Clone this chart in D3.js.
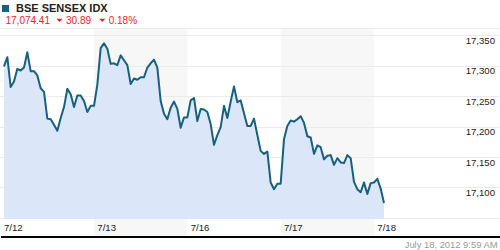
<!DOCTYPE html>
<html>
<head>
<meta charset="utf-8">
<script src="https://cdn.jsdelivr.net/npm/d3@7"></script>
<style>
html,body{margin:0;padding:0;background:#fff;}
svg{display:block;font-family:Arial,"Liberation Sans",sans-serif;}
</style>
</head>
<body>
<svg id="chart" width="500" height="250"></svg>
<script>
// ---- data ----
const title = "BSE SENSEX IDX";
const lastValue = "17,074.41";
const change = "30.89";
const changePct = "0.18%";
const timestamp = "July 18, 2012 9:59 AM";
const dayLabels = ["7/12", "7/13", "7/16", "7/17", "7/18"];
const dayStartSlots = [0, 28, 56, 84, 112];
const shadedDays = [1, 3];
const yTicks = [17100, 17150, 17200, 17250, 17300, 17350];
const gridValues = [17050, 17100, 17150, 17200, 17250, 17300, 17350];
const values = [
  17299, 17314, 17265, 17274, 17295, 17292, 17297, 17322, 17291, 17291,
  17284, 17263, 17257, 17213, 17212, 17203, 17193, 17214, 17232, 17262,
  17253, 17232, 17251, 17251, 17242, 17224, 17234, 17234, 17269, 17329,
  17337, 17328, 17303, 17304, 17301, 17317, 17309, 17301, 17270, 17279,
  17277, 17281, 17281, 17297, 17304, 17310, 17297, 17242, 17221, 17212,
  17231, 17241, 17229, 17198, 17215, 17215, 17243, 17247, 17209, 17229,
  17228, 17224, 17204, 17170, 17186, 17199, 17234, 17214, 17241, 17266,
  17240, 17243, 17222, 17201, 17201, 17213, 17186, 17160, 17155, 17159,
  17108, 17097, 17106, 17106, 17179, 17201, 17210, 17208, 17212, 17217,
  17206, 17184, 17182, 17155, 17169, 17166, 17146, 17152, 17153, 17137,
  17148, 17141, 17140, 17153, 17148, 17109, 17097, 17092, 17108, 17089,
  17107, 17108, 17114, 17098, 17074.41
];

// ---- layout ----
const svg = d3.select("#chart");
const plotTop = 28, plotBottom = 219, bandBottom = 236;
const x = d3.scaleLinear().domain([0, 150]).range([0.67, 500.67]);
const y = d3.scaleLinear().domain([17048, 17362]).range([plotBottom, plotTop]);

// shaded day bands
svg.append("g").selectAll("rect").data(shadedDays).join("rect")
  .attr("x", d => x(dayStartSlots[d]))
  .attr("y", plotTop)
  .attr("width", d => x(dayStartSlots[d] + 28) - x(dayStartSlots[d]))
  .attr("height", bandBottom - plotTop)
  .attr("fill", "#f7f7f7");

// gridlines
svg.append("g").selectAll("line").data(gridValues).join("line")
  .attr("x1", 0).attr("x2", 500)
  .attr("y1", d => Math.round(y(d)) + 0.5)
  .attr("y2", d => Math.round(y(d)) + 0.5)
  .attr("stroke", "#ebebeb").attr("stroke-width", 1);
svg.append("line").attr("x1", 0).attr("x2", 500)
  .attr("y1", plotTop + 0.5).attr("y2", plotTop + 0.5)
  .attr("stroke", "#ebebeb");

// area + line
const area = d3.area()
  .x((d, i) => x(i + 1))
  .y0(plotBottom)
  .y1(d => y(d));
const line = d3.line()
  .x((d, i) => x(i + 1))
  .y(d => y(d));
svg.append("path").datum(values).attr("d", area).attr("fill", "#dbe6f8");
svg.append("path").datum(values).attr("d", line)
  .attr("fill", "none").attr("stroke", "#17607f")
  .attr("stroke-width", 2).attr("stroke-linejoin", "round");

// y axis labels
const fmt = d3.format(",");
svg.append("g").selectAll("text").data(yTicks).join("text")
  .attr("x", 495)
  .attr("y", d => y(d) + 8.6)
  .attr("text-anchor", "end")
  .attr("font-size", "9.6px")
  .attr("fill", "#222")
  .text(d => fmt(d));

// x axis labels
svg.append("g").selectAll("text").data(dayLabels).join("text")
  .attr("x", (d, i) => x(dayStartSlots[i]) + 3.3)
  .attr("y", 230.8)
  .attr("font-size", "9.6px")
  .attr("fill", "#222")
  .text(d => d);

// bottom rule
svg.append("rect").attr("x", 1).attr("y", 236).attr("width", 499).attr("height", 2).attr("fill", "#000");

// timestamp
svg.append("text").attr("x", 497.5).attr("y", 248).attr("text-anchor", "end")
  .attr("font-size", "9.4px").attr("fill", "#999").text(timestamp);

// header
svg.append("rect").attr("x", 2).attr("y", 5).attr("width", 7).attr("height", 7).attr("fill", "#17607f");
svg.append("text").attr("x", 16).attr("y", 12).attr("font-size", "11px")
  .attr("font-weight", "bold").attr("fill", "#222").text(title);
const red = "#ee1c24";
svg.append("text").attr("x", 5.5).attr("y", 24.3).attr("font-size", "10px").attr("fill", red).text(lastValue);
const tri = (cx) => `M${cx - 3},18.7 L${cx + 3},18.7 L${cx},22 Z`;
svg.append("path").attr("d", tri(59.5)).attr("fill", red);
svg.append("text").attr("x", 66).attr("y", 24.3).attr("font-size", "10px").attr("fill", red).text(change);
svg.append("path").attr("d", tri(102.3)).attr("fill", red);
svg.append("text").attr("x", 108.7).attr("y", 24.3).attr("font-size", "10px").attr("fill", red).text(changePct);
</script>
</body>
</html>
